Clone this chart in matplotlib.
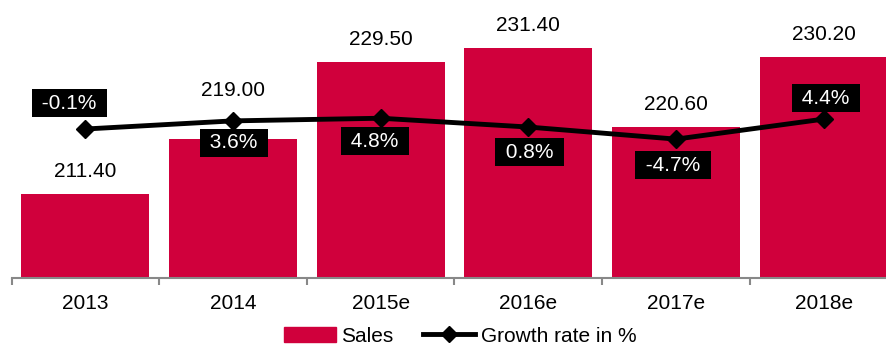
import matplotlib.pyplot as plt
import numpy as np
from matplotlib.lines import Line2D
from matplotlib.patches import Patch

plt.rcParams.update({
    "font.family": ["Liberation Sans", "DejaVu Sans"],
    "font.size": 15,
})

years = ['2013', '2014', '2015e', '2016e', '2017e', '2018e']
sales = [211.40, 219.00, 229.50, 231.40, 220.60, 230.20]
growth = [-0.1, 3.6, 4.8, 0.8, -4.7, 4.4]

# label placement (pixel offsets) so boxes and values don't collide with the line
sales_dy = [13, 39, 13, 13, 13, 13]
growth_dx = [-16, 1, -6, 1, -3, 2]
growth_dy = [26, -22, -23, -25, -26, 21]

RED = '#D0003C'

fig = plt.figure(figsize=(8.86, 3.45), dpi=100)
W, H = 886, 345
ax = fig.add_axes([11.5 / W, (H - 277.5) / H, 886 / W, 267.5 / H])

x = np.arange(len(years))
bars = ax.bar(x, sales, width=0.867, color=RED, zorder=2)
ax.set_xlim(-0.5, len(years) - 0.5)
ax.set_ylim(200, 236.64)

for rect, v, dy in zip(bars, sales, sales_dy):
    ax.annotate(f'{v:.2f}', xy=(rect.get_x() + rect.get_width() / 2, v),
                xytext=(0, dy), textcoords='offset pixels',
                ha='center', va='bottom', fontsize=15, color='black')

ax.set_yticks([])
for s in ['top', 'right', 'left']:
    ax.spines[s].set_visible(False)
ax.spines['bottom'].set_color('#888888')
ax.spines['bottom'].set_linewidth(1.5)
ax.set_xticks(x)
ax.set_xticklabels(years, fontsize=15)
ax.set_xticks(np.arange(len(years) + 1) - 0.5, minor=True)
ax.tick_params(axis='x', which='major', length=0, pad=12)
ax.tick_params(axis='x', which='minor', length=5, width=1.5, color='#888888')

ax2 = ax.twinx()
ax2.set_ylim(-67.6, 54.0)
ax2.plot(x, growth, color='black', linewidth=3.5, marker='D', markersize=9, zorder=3)
ax2.set_yticks([])
for s in ax2.spines.values():
    s.set_visible(False)

for xi, g, dx, dy in zip(x, growth, growth_dx, growth_dy):
    ax2.annotate(f' {g:.1f}% ', xy=(xi, g), xytext=(dx, dy), textcoords='offset pixels',
                 ha='center', va='center', fontsize=15, color='white',
                 bbox=dict(boxstyle='square,pad=0.22', fc='black', ec='none'))

handles = [Patch(color=RED, label='Sales'),
           Line2D([0], [0], color='black', lw=3.5, marker='D', markersize=8,
                  label='Growth rate in %')]
fig.legend(handles=handles, loc='center', bbox_to_anchor=(0.519, 1 - 336 / H), ncol=2,
           frameon=False, fontsize=15, handlelength=2.5, handletextpad=0.25,
           columnspacing=1.45, borderpad=0, borderaxespad=0)

fig.savefig('out.png', dpi=100)
